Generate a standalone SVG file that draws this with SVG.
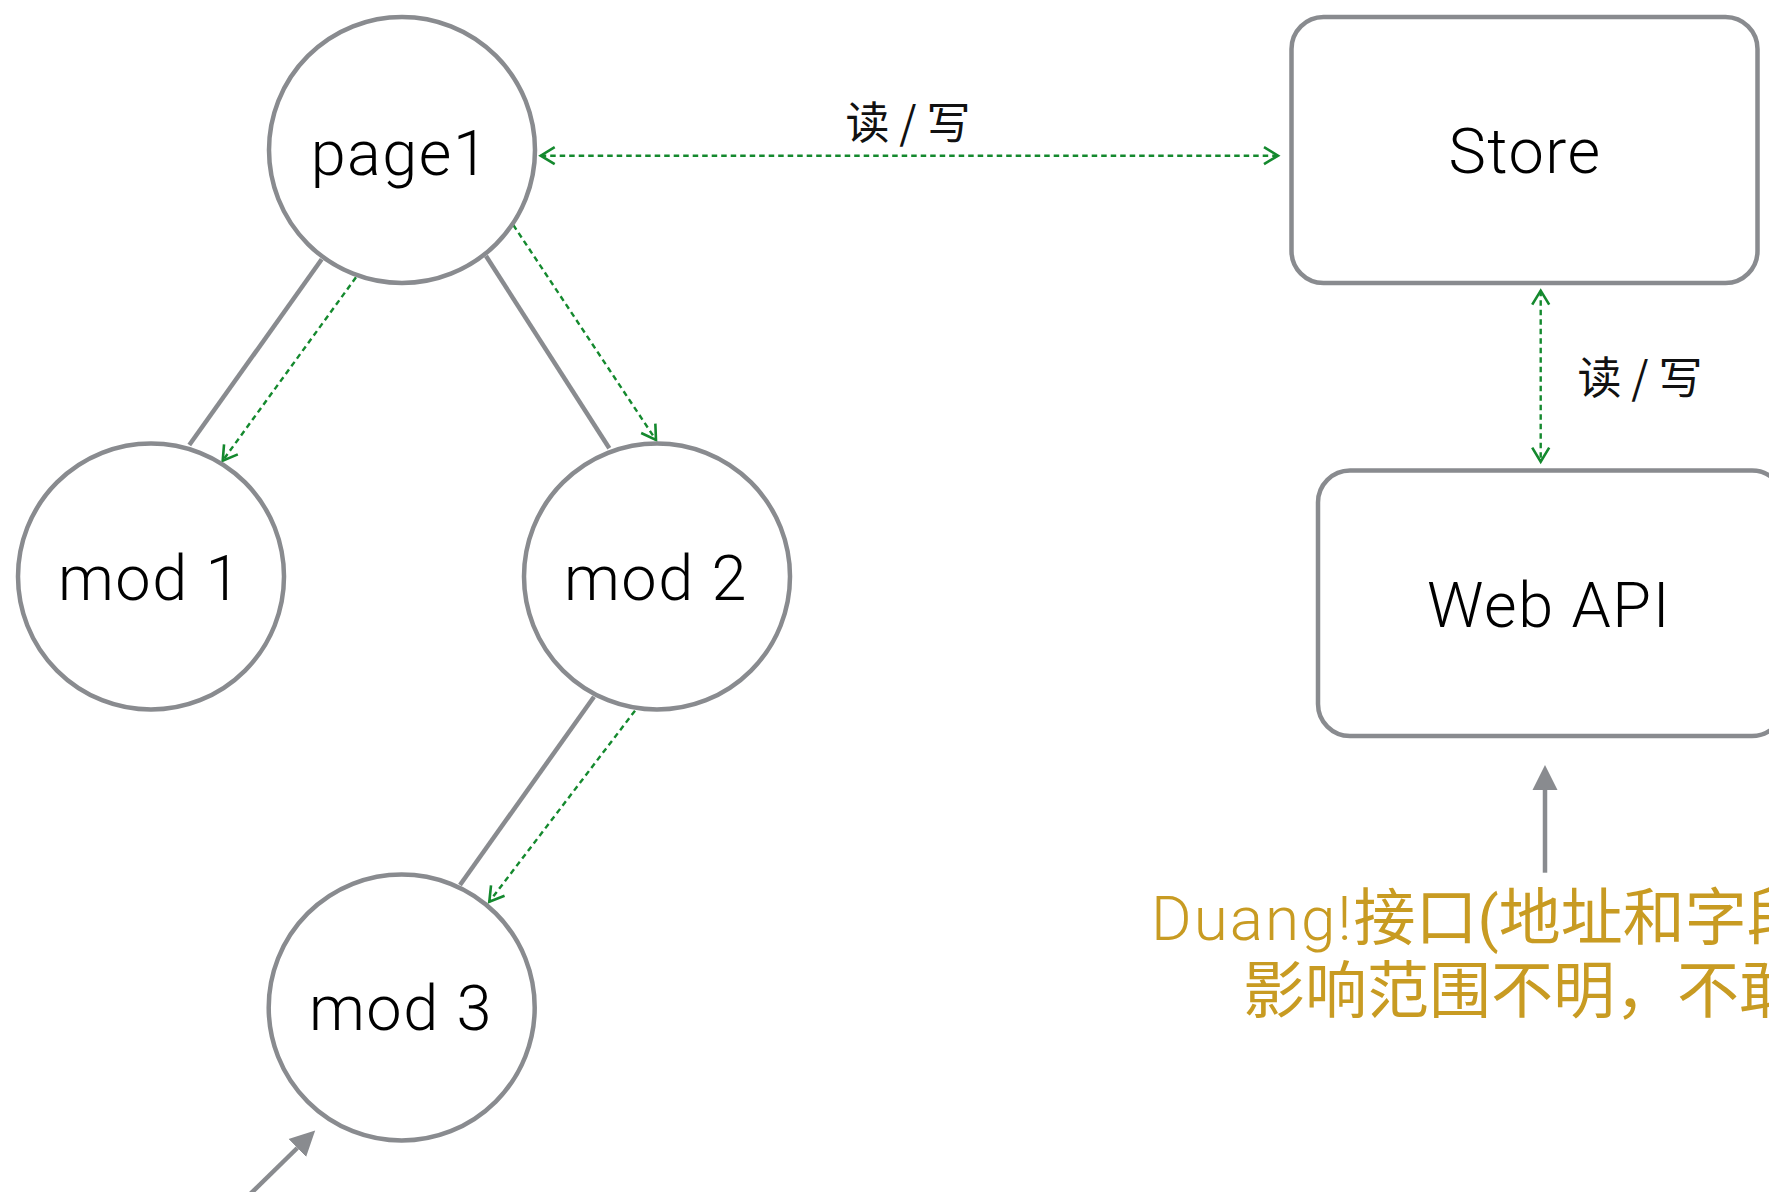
<svg xmlns="http://www.w3.org/2000/svg" width="1769" height="1192" viewBox="0 0 1769 1192">
  <style>
    .node { fill: #ffffff; stroke: #898b8f; stroke-width: 4.5; }
    .label { font-family: Roboto, "Liberation Sans", "Noto Sans CJK SC", sans-serif; font-weight: 300; font-size: 63px; letter-spacing: 1.5px; fill: #000000; text-anchor: middle; }
    .edge { fill: none; stroke: #898b8f; stroke-width: 4.5; }
    .flow { fill: none; stroke: #14892e; stroke-width: 2.4; stroke-dasharray: 5.5 4; }
    .rw { font-family: "Noto Sans CJK SC", sans-serif; font-weight: 400; font-size: 44px; fill: #111111; text-anchor: middle; }
    .note { font-family: Roboto, "Liberation Sans", "Noto Sans CJK SC", sans-serif; font-weight: 400; font-size: 62px; fill: #c89b22; }
    .latin { font-weight: 300; letter-spacing: 2px; }
  </style>
  <defs>
    <marker id="open" markerUnits="userSpaceOnUse" markerWidth="22" markerHeight="26" viewBox="-18 -13 22 26" refX="0" refY="0" orient="auto-start-reverse">
      <path d="M-14,-8.5 L0,0 L-14,8.5" fill="none" stroke="#14892e" stroke-width="2.6"/>
    </marker>
    <marker id="solid" markerUnits="userSpaceOnUse" markerWidth="26" markerHeight="26" viewBox="0 -13 26 26" refX="0" refY="0" orient="auto">
      <path d="M0,-12.5 L25,0 L0,12.5 z" fill="#898b8f"/>
    </marker>
  </defs>

  <!-- connectors -->
  <g id="connectors">
    <line class="edge" x1="321.7" y1="259.3" x2="189.3" y2="445"/>
    <line class="edge" x1="486" y1="256" x2="609.3" y2="448.3"/>
    <line class="edge" x1="594" y1="696.7" x2="460" y2="885"/>

    <line class="flow" x1="356" y1="277.3" x2="222.7" y2="460.7" marker-end="url(#open)"/>
    <line class="flow" x1="513.3" y1="225" x2="656" y2="440" marker-end="url(#open)"/>
    <line class="flow" x1="635" y1="710.7" x2="489.3" y2="901.7" marker-end="url(#open)"/>

    <line class="flow" x1="540.7" y1="155.7" x2="1278" y2="155.7" marker-start="url(#open)" marker-end="url(#open)"/>
    <line class="flow" x1="1540.7" y1="290.7" x2="1540.7" y2="461.7" marker-start="url(#open)" marker-end="url(#open)"/>

    <line class="edge" x1="1545" y1="872.7" x2="1545" y2="790" marker-end="url(#solid)"/>
    <line class="edge" x1="240" y1="1204" x2="297.3" y2="1148" marker-end="url(#solid)"/>

    <text class="rw" x="908" y="139">读 / 写</text>
    <text class="rw" x="1640" y="394">读 / 写</text>
  </g>

  <g id="page1">
    <circle class="node" cx="402" cy="150" r="133"/>
    <text class="label" x="400" y="175">page1</text>
  </g>
  <g id="mod1">
    <circle class="node" cx="151" cy="576.5" r="133"/>
    <text class="label" x="150" y="599.5">mod 1</text>
  </g>
  <g id="mod2">
    <circle class="node" cx="657" cy="576.5" r="133"/>
    <text class="label" x="656" y="599.5">mod 2</text>
  </g>
  <g id="mod3">
    <circle class="node" cx="401.7" cy="1007.5" r="133"/>
    <text class="label" x="401" y="1030">mod 3</text>
  </g>
  <g id="store">
    <rect class="node" x="1291.5" y="17" width="466" height="266" rx="32"/>
    <text class="label" x="1525" y="173">Store</text>
  </g>
  <g id="webapi">
    <rect class="node" x="1318" y="470.5" width="466" height="265.5" rx="32"/>
    <text class="label" x="1549" y="627.3">Web API</text>
  </g>

  <g id="note">
    <text class="note" x="1151" y="940"><tspan class="latin">Duang!</tspan>接口(地址和字段</text>
    <text class="note" x="1243" y="1013">影响范围不明，不敢</text>
  </g>
</svg>
